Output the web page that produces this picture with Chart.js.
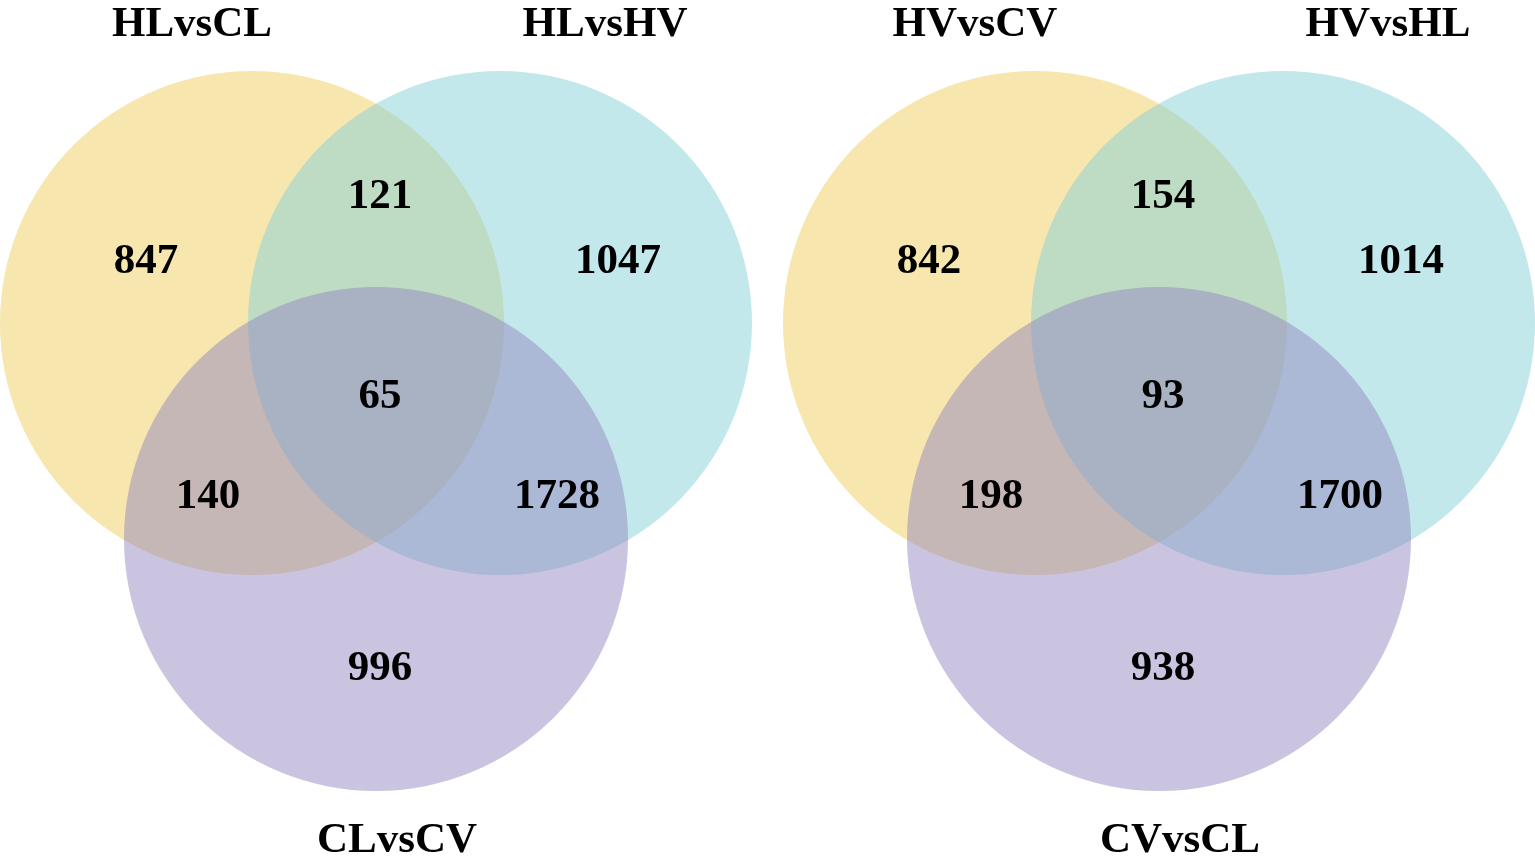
<!DOCTYPE html>
<html>
<head>
<meta charset="utf-8">
<script src="https://cdn.jsdelivr.net/npm/chart.js@4"></script>
<style>
  html, body { margin: 0; padding: 0; background: #fff; }
  #wrap { width: 1535px; height: 868px; }
</style>
</head>
<body>
<div id="wrap"><canvas id="venn"></canvas></div>
<script>
// set names and region counts, order: A only, A&B, B only, A&B&C, A&C, B&C, C only
var leftSets = ['HLvsCL', 'HLvsHV', 'CLvsCV'];
var leftCounts = [847, 121, 1047, 65, 140, 1728, 996];
var rightSets = ['HVvsCV', 'HVvsHL', 'CVvsCL'];
var rightCounts = [842, 154, 1014, 93, 198, 1700, 938];

// layout (data units match the 1535x868 plot)
var panelX = [0, 783];
var circleR = 252;
var circleXY = [[252, 323], [500, 323], [376, 539]];
var regionXY = [[146, 273], [380, 208], [618, 273], [380, 408], [208, 508], [557, 508], [380, 680]];
var titleXY = [[192, 36], [605, 36], [397, 852]];
var colors = ['rgba(240,205,93,0.5)', 'rgba(133,210,218,0.5)', 'rgba(149,137,193,0.5)'];

var panels = [
  {sets: leftSets, counts: leftCounts},
  {sets: rightSets, counts: rightCounts}
];

var datasets = [];
for (var c = 0; c < 3; c++) {
  var pts = [];
  panelX.forEach(function(off){
    pts.push({x: off + circleXY[c][0], y: circleXY[c][1]});
  });
  datasets.push({
    label: 'circle' + c,
    data: pts,
    backgroundColor: colors[c],
    borderWidth: 0,
    order: 3 - c,
    clip: false,
    radius: 0,
    hoverRadius: 0
  });
}

var vennText = {
  id: 'vennText',
  afterDatasetsDraw: function(chart){
    var g = chart.ctx, xs = chart.scales.x, ys = chart.scales.y;
    g.save();
    g.fillStyle = '#000';
    g.textAlign = 'center';
    g.textBaseline = 'alphabetic';
    g.font = 'bold 43px "Liberation Serif", "Times New Roman", serif';
    panels.forEach(function(p, k){
      var off = panelX[k];
      p.sets.forEach(function(name, i){
        g.fillText(name, xs.getPixelForValue(off + titleXY[i][0]), ys.getPixelForValue(titleXY[i][1]));
      });
      p.counts.forEach(function(v, i){
        g.fillText(String(v), xs.getPixelForValue(off + regionXY[i][0]), ys.getPixelForValue(regionXY[i][1]));
      });
    });
    g.restore();
  }
};

var chart = new Chart(document.getElementById('venn'), {
  type: 'bubble',
  data: {datasets: datasets},
  options: {
    responsive: true,
    maintainAspectRatio: false,
    animation: false,
    events: [],
    layout: {padding: 0, autoPadding: false},
    plugins: {legend: {display: false}, tooltip: {enabled: false}},
    scales: {
      x: {type: 'linear', min: 0, max: 1535, display: false},
      y: {type: 'linear', min: 0, max: 868, reverse: true, display: false}
    }
  },
  plugins: [vennText]
});

// bubble r is in pixels: convert the circle radius through the x scale once laid out
var xs = chart.scales.x;
var rPx = xs.getPixelForValue(circleR) - xs.getPixelForValue(0);
chart.data.datasets.forEach(function(d){
  d.data = d.data.map(function(p){ return {x: p.x, y: p.y, r: rPx}; });
});
chart.update();
</script>
</body>
</html>
